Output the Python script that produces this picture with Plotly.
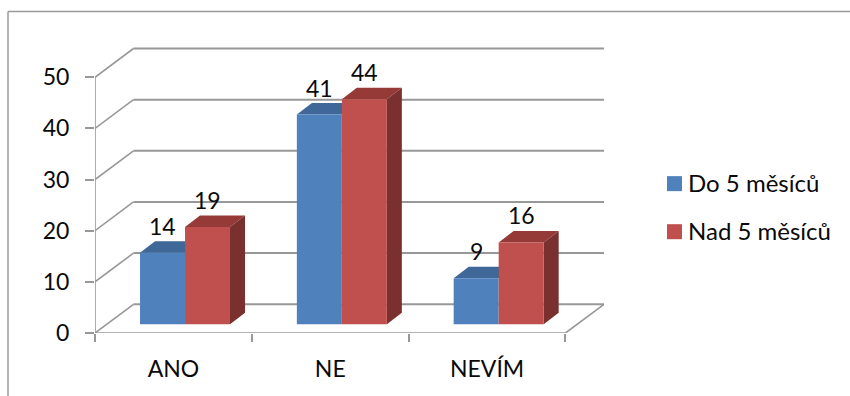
import plotly.graph_objects as go

categories = ["ANO", "NE", "NEVÍM"]
do_5_mesicu = [14, 41, 9]
nad_5_mesicu = [19, 44, 16]
series_names = ["Do 5 měsíců", "Nad 5 měsíců"]
y_ticks = [0, 10, 20, 30, 40, 50]

FONT = "Lato, Carlito, Calibri, sans-serif"
BLUE, BLUE_TOP = "#4F81BD", "#3F6797"
RED, RED_TOP, RED_SIDE = "#C0504D", "#953A37", "#7A302E"
GRID = "#989898"
INK = "#0A0A0A"
WIDTH, HEIGHT = 850, 396

# Plot area in pixels and the axis scales that go with it
LEFT, RIGHT, TOP, BOTTOM = 95.0, 612.0, 36.0, 332.7
PX_X = 156.83
PX_Y = 5.11
x_range = [0, (RIGHT - LEFT) / PX_X]
y_range = [0, (BOTTOM - TOP) / PX_Y]

# Oblique depth of the chart box and of the bars, in axis units
BOX_DX, BOX_DY = 38.5 / PX_X, 28.7 / PX_Y
BAR_DX, BAR_DY = 15.0 / PX_X, 11.5 / PX_Y
BAR_W = 45.0 / PX_X
BAR_BASE = 8.7 / PX_Y
GROUP_SHIFT = 0.574

n = len(categories)
centers = [i + GROUP_SHIFT for i in range(n)]


def px_x(p):
    return (p - LEFT) / (RIGHT - LEFT)


def px_y(p):
    return (BOTTOM - p) / (BOTTOM - TOP)


def poly(points, color):
    path = "M " + " L ".join(f"{x:.5f} {y:.5f}" for x, y in points) + " Z"
    return dict(type="path", path=path, xref="x", yref="y", layer="below",
                fillcolor=color, line=dict(width=0))


def seg(x0, y0, x1, y1, width=1.6):
    return dict(type="line", x0=x0, y0=y0, x1=x1, y1=y1, xref="x", yref="y",
                layer="below", line=dict(color=GRID, width=width))


shapes = []

# Frame around the chart, open on the right and at the bottom
shapes.append(dict(type="line", xref="paper", yref="paper",
                   x0=px_x(8), x1=px_x(8), y0=px_y(11.5), y1=px_y(396),
                   line=dict(color="#9A9A9A", width=1.5)))
shapes.append(dict(type="line", xref="paper", yref="paper",
                   x0=px_x(8), x1=px_x(850), y0=px_y(11.5), y1=px_y(11.5),
                   line=dict(color="#9A9A9A", width=1.5)))

# Back wall gridlines with their slanted side parts
for v in y_ticks:
    shapes.append(seg(0, v, BOX_DX, v + BOX_DY))
    shapes.append(seg(BOX_DX, v + BOX_DY, n + BOX_DX, v + BOX_DY, 2))

# Front axis lines and the right floor edge
shapes.append(seg(0, 0, 0, y_ticks[-1]))
shapes.append(seg(0, 0, n, 0))
shapes.append(seg(n, 0, n + BOX_DX, BOX_DY))

# Top and side faces of each bar
for c, a, b in zip(centers, do_5_mesicu, nad_5_mesicu):
    ya, yb = BAR_BASE + a, BAR_BASE + b
    xl, xm, xr = c - BAR_W, c, c + BAR_W
    shapes.append(poly([(xl, ya), (xm, ya), (xm + BAR_DX, ya + BAR_DY),
                        (xl + BAR_DX, ya + BAR_DY)], BLUE_TOP))
    shapes.append(poly([(xm, yb), (xr, yb), (xr + BAR_DX, yb + BAR_DY),
                        (xm + BAR_DX, yb + BAR_DY)], RED_TOP))
    shapes.append(poly([(xr, BAR_BASE), (xr + BAR_DX, BAR_BASE + BAR_DY),
                        (xr + BAR_DX, yb + BAR_DY), (xr, yb)], RED_SIDE))

fig = go.Figure()
fig.add_bar(name=series_names[0], x=centers, y=do_5_mesicu, base=BAR_BASE,
            width=BAR_W, offset=-BAR_W, marker=dict(color=BLUE, line=dict(width=0)))
fig.add_bar(name=series_names[1], x=centers, y=nad_5_mesicu, base=BAR_BASE,
            width=BAR_W, offset=0, marker=dict(color=RED, line=dict(width=0)))

annotations = []

# Value labels above the bars
for c, a, b in zip(centers, do_5_mesicu, nad_5_mesicu):
    for xc, v in ((c - BAR_W / 2, a), (c + BAR_W / 2, b)):
        annotations.append(dict(x=xc, y=BAR_BASE + v, xref="x", yref="y",
                                text=str(v), showarrow=False, yanchor="middle",
                                yshift=27, font=dict(family=FONT, size=23, color=INK)))

# Legend entries
for name, color, y_mid in ((series_names[0], BLUE, 183.5), (series_names[1], RED, 231.5)):
    shapes.append(dict(type="rect", xref="paper", yref="paper",
                       x0=px_x(667), x1=px_x(682), y0=px_y(y_mid - 7.5), y1=px_y(y_mid + 7.5),
                       fillcolor=color, line=dict(width=0)))
    annotations.append(dict(x=px_x(686), y=px_y(y_mid - 1), xref="paper", yref="paper",
                            text=name, showarrow=False, xanchor="left", yanchor="middle",
                            font=dict(family=FONT, size=24, color=INK)))

fig.update_layout(
    width=WIDTH, height=HEIGHT,
    margin=dict(l=LEFT, r=WIDTH - RIGHT, t=TOP, b=HEIGHT - BOTTOM, pad=0),
    paper_bgcolor="white", plot_bgcolor="white",
    barmode="overlay", showlegend=False,
    shapes=shapes, annotations=annotations,
    xaxis=dict(range=x_range, showgrid=False, zeroline=False, showline=False,
               tickmode="array", tickvals=[i + 0.5 for i in range(n)], ticktext=categories,
               ticks="outside", ticklen=8, tickcolor="rgba(0,0,0,0)", ticklabelstandoff=7,
               tickfont=dict(family=FONT, size=23, color=INK),
               minor=dict(tickmode="array", tickvals=list(range(n + 1)), ticks="outside",
                          ticklen=8, tickwidth=1.6, tickcolor=GRID)),
    yaxis=dict(range=y_range, showgrid=False, zeroline=False, showline=False,
               tickmode="array", tickvals=y_ticks,
               ticks="outside", ticklen=9, tickwidth=1.6, tickcolor=GRID, ticklabelstandoff=11,
               tickfont=dict(family=FONT, size=23, color=INK)),
)

fig.write_html("out.html")
